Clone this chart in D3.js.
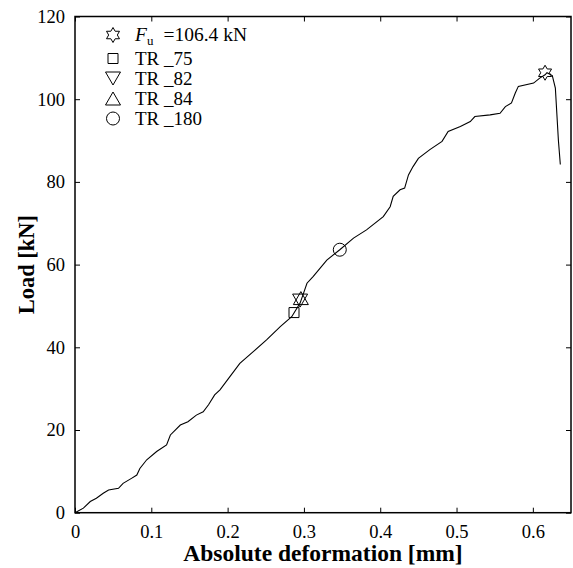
<!DOCTYPE html>
<html>
<head>
<meta charset="utf-8">
<script src="https://cdn.jsdelivr.net/npm/d3@7"></script>
<style>
body { margin: 0; background: #fff; }
text { font-family: "Liberation Serif", "Times New Roman", serif; fill: #000; }
</style>
</head>
<body>
<script>

// load curve (deformation in mm, load in kN)
var defX = [0, 0.011, 0.020, 0.028, 0.037, 0.044, 0.057, 0.063, 0.074, 0.081, 0.085, 0.094,
  0.107, 0.120, 0.125, 0.138, 0.148, 0.159, 0.168, 0.175, 0.183, 0.190, 0.203, 0.216,
  0.234, 0.251, 0.269, 0.284, 0.295, 0.304, 0.312, 0.330, 0.347, 0.365, 0.382, 0.404,
  0.413, 0.417, 0.426, 0.432, 0.437, 0.443, 0.450, 0.465, 0.481, 0.489, 0.505, 0.518,
  0.524, 0.544, 0.557, 0.564, 0.572, 0.577, 0.581, 0.601, 0.609, 0.616, 0.6185]
var loadY = [0, 1.1, 2.7, 3.5, 4.7, 5.5, 5.9, 7.1, 8.3, 9.1, 10.7, 12.8,
  14.8, 16.4, 18.8, 21.2, 22.0, 23.6, 24.4, 26.1, 28.5, 29.7, 32.9, 36.1,
  39.0, 41.8, 45.0, 47.4, 50.7, 55.5, 57.1, 61.1, 63.6, 66.4, 68.4, 71.6,
  74.0, 76.5, 78.1, 78.5, 81.7, 83.7, 85.7, 87.8, 89.8, 92.2, 93.4, 94.6,
  95.8, 96.2, 96.6, 98.2, 99.1, 101.5, 103.1, 103.9, 105.1, 105.9, 106.4]

// after the peak
var dropX = [0.6185, 0.6255, 0.6295, 0.6335, 0.636]
var dropY = [106.4, 105.7, 102.7, 90.0, 84.2]

// markers
var markNames = ['Fu', 'TR_75', 'TR_82', 'TR_84', 'TR_180']
var markX = [0.616, 0.287, 0.295, 0.296, 0.347]
var markY = [106.4, 48.4, 51.3, 51.9, 63.6]
var markShapes = ['hexagram', 'square', 'down', 'up', 'circle']
var legendNums = ['75', '82', '84', '180']

var xTicks = [0, 0.1, 0.2, 0.3, 0.4, 0.5, 0.6]
var xTickLabels = ['0', '0.1', '0.2', '0.3', '0.4', '0.5', '0.6']
var yTicks = [0, 20, 40, 60, 80, 100, 120]

var W = 573, H = 568
var margin = {top: 16.5, right: 2, bottom: 55.3, left: 75}
var width = W - margin.left - margin.right,
    height = H - margin.top - margin.bottom

var svg = d3.select('body').append('svg').attr('width', W).attr('height', H)
var g = svg.append('g').attr('transform', 'translate(' + margin.left + ',' + margin.top + ')')

var x = d3.scaleLinear().domain([0, 0.65]).range([0, width])
var y = d3.scaleLinear().domain([0, 120]).range([height, 0])

// marker shapes centred on 0,0
function shape(name) {
  if (name == 'square') return 'M-5,-5H5V5H-5Z'
  if (name == 'circle') return d3.symbol(d3.symbolCircle, Math.PI * 6.5 * 6.5)()
  if (name == 'down') return 'M-7.5,-6.5L7.5,-6.5L0,6.5Z'
  if (name == 'up') return 'M-7.5,6.5L7.5,6.5L0,-6.5Z'
  // six pointed star
  var R = 7.5, r = R / Math.sqrt(3), p = []
  for (var i = 0; i < 12; i++) {
    var a = (-90 + i * 30) * Math.PI / 180, rr = i % 2 ? r : R
    p.push([rr * Math.cos(a), rr * Math.sin(a)])
  }
  return 'M' + p.join('L') + 'Z'
}

// axes, ticks drawn inward on all four sides
var fmt = function(d, i) { return xTickLabels[i] }
var xb = g.append('g').attr('transform', 'translate(0,' + height + ')')
  .call(d3.axisBottom(x).tickValues(xTicks).tickFormat(fmt).tickSizeInner(-5).tickSizeOuter(0))
xb.selectAll('text').attr('dy', null).attr('y', 25).style('font-size', '18.5px')
g.append('g')
  .call(d3.axisTop(x).tickValues(xTicks).tickFormat('').tickSizeInner(-5).tickSizeOuter(0))
var yl = g.append('g')
  .call(d3.axisLeft(y).tickValues(yTicks).tickSizeInner(-5).tickSizeOuter(0).tickPadding(10))
yl.selectAll('text').style('font-size', '18.5px')
g.append('g').attr('transform', 'translate(' + width + ',0)')
  .call(d3.axisRight(y).tickValues(yTicks).tickFormat('').tickSizeInner(-5).tickSizeOuter(0))
g.selectAll('.domain').remove()
g.selectAll('.tick line').attr('stroke', '#000').attr('stroke-width', 1)
g.selectAll('.tick text').attr('font-family', null)

g.append('rect').attr('width', width).attr('height', height)
  .attr('fill', 'none').attr('stroke', '#000').attr('stroke-width', 1.5)

// curve
var pts = defX.map(function(d, i) { return {x: d, y: loadY[i]} })
  .concat(dropX.slice(1).map(function(d, i) { return {x: d, y: dropY[i + 1]} }))

var line = d3.line().x(function(d) { return x(d.x) }).y(function(d) { return y(d.y) })

g.append('path').attr('d', line(pts))
  .attr('fill', 'none').attr('stroke', '#000').attr('stroke-width', 1.1)
  .attr('stroke-linejoin', 'miter')

// markers on the curve
g.selectAll('.mark').data(markNames).enter().append('path')
  .attr('class', 'mark')
  .attr('transform', function(d, i) { return 'translate(' + x(markX[i]) + ',' + y(markY[i]) + ')' })
  .attr('d', function(d, i) { return shape(markShapes[i]) })
  .attr('fill', 'none').attr('stroke', '#000').attr('stroke-width', 1)

// legend
var legY = [35, 58.5, 78.5, 98.5, 118.5]
var leg = svg.append('g')
leg.selectAll('path').data(markNames).enter().append('path')
  .attr('transform', function(d, i) { return 'translate(113,' + legY[i] + ')' })
  .attr('d', function(d, i) { return shape(markShapes[i]) })
  .attr('fill', 'none').attr('stroke', '#000').attr('stroke-width', 1)

var t0 = leg.append('text').attr('x', 135).attr('y', legY[0] + 6).style('font-size', '19.5px')
t0.append('tspan').text('F').style('font-style', 'italic')
t0.append('tspan').text('u').attr('dy', 4).style('font-size', '13px')
t0.append('tspan').text('=106.4 kN').attr('dx', 10).attr('dy', -4)

leg.selectAll('.lt').data(legendNums).enter().append('text')
  .attr('class', 'lt')
  .attr('x', 135).attr('y', function(d, i) { return legY[i + 1] + 6 })
  .style('font-size', '19px')
  .text(function(d) { return 'TR _' + d })

// axis titles
svg.append('text')
  .attr('x', margin.left + width / 2).attr('y', 561)
  .attr('text-anchor', 'middle')
  .style('font-size', '23.5px').style('font-weight', 'bold')
  .text('Absolute deformation [mm]')

svg.append('text')
  .attr('transform', 'translate(34,' + (margin.top + height / 2) + ') rotate(-90)')
  .attr('text-anchor', 'middle')
  .style('font-size', '22.5px').style('font-weight', 'bold')
  .text('Load [kN]')

</script>
</body>
</html>
